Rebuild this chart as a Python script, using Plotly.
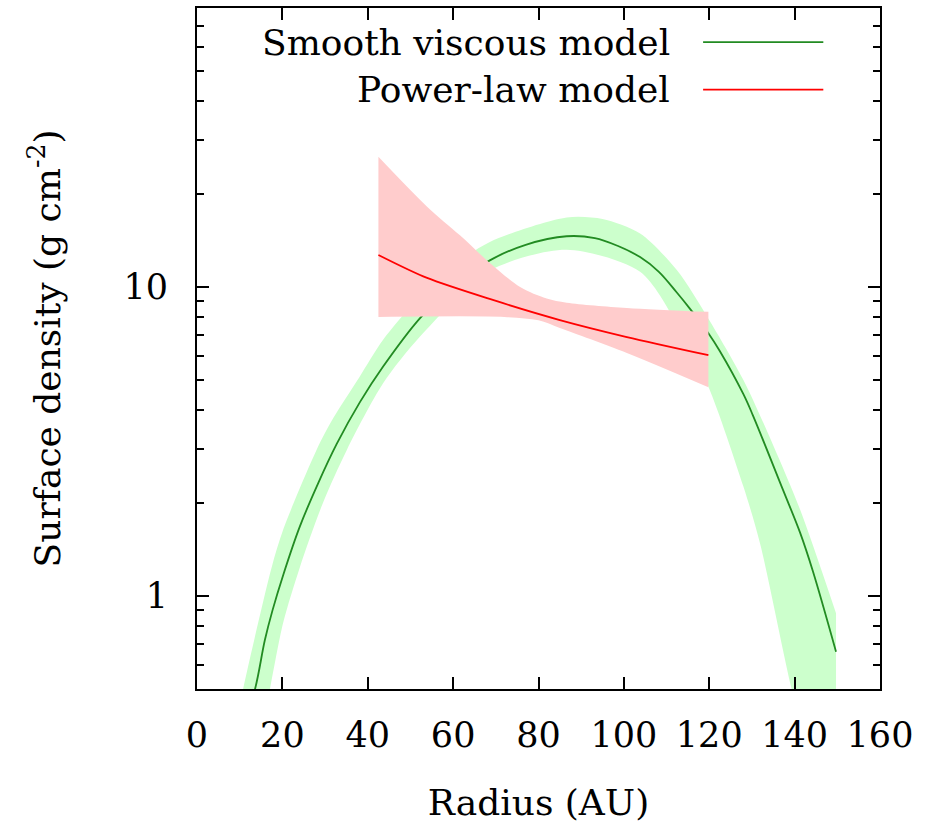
import plotly.graph_objects as go

# ---- data ----
# Smooth viscous model: central curve
viscous_r = [9, 13.6, 15.9, 17.7, 20.2, 24.1, 28.4, 32.7, 38.2, 43.6, 52.2, 60, 68.6, 77, 86.6, 93.2,
             98.5, 103.8, 108.2, 112.4, 115.5, 119.8, 122.5, 128, 130.2, 137.3, 141.3, 144.3, 149.7]
viscous_sigma = [0.31, 0.5, 0.72, 0.9, 1.17, 1.68, 2.32, 3.1, 4.25, 5.53, 7.92, 10.1, 12.2, 13.7, 14.6, 14.4,
                 13.6, 12.5, 11.2, 9.6, 8.5, 7.09, 6.2, 4.5, 3.85, 2.2, 1.6, 1.2, 0.66]
# Smooth viscous model: uncertainty band
viscous_upper_r = [9, 10.8, 13.4, 17.5, 20.2, 28, 32, 38, 43.6, 52.2, 60, 68.6, 86.6, 95, 103.8, 112.4,
                   119.8, 128, 135, 141.3, 149.7]
viscous_upper = [0.38, 0.5, 0.72, 1.24, 1.64, 2.97, 3.78, 5.1, 6.75, 9.3, 11.7, 14.0, 16.8, 16.6, 14.9, 11.35,
                 7.9, 5.0, 3.07, 1.9, 0.879]
viscous_lower_r = [14, 17.1, 20.2, 24.1, 29.5, 35.1, 43.6, 52.2, 68.6, 86.6, 103.8, 112.4, 119.8, 128, 131.9,
                   139.3, 145, 149.7]
viscous_lower = [0.3, 0.5, 0.82, 1.24, 2.0, 2.97, 4.88, 6.9, 11.3, 13.2, 11.2, 7.6, 4.76, 2.26, 1.48,
                 0.5, 0.25, 0.12]

# Power-law model: central curve
power_r = [42.5, 53.9, 69.3, 85, 100.7, 119.8]
power_sigma = [12.7, 10.7, 9.08, 7.82, 6.89, 6.02]
# Power-law model: uncertainty band
power_upper_r = [42.5, 53.9, 61.6, 68.6, 75.7, 81.9, 86.6, 100.7, 119.8]
power_upper = [26.4, 18.2, 14.7, 11.97, 10.0, 9.18, 8.9, 8.56, 8.31]
power_lower_r = [42.5, 72, 80, 85, 100.7, 119.8]
power_lower = [8.0, 8.0, 7.8, 7.37, 6.12, 4.74]

x_ticks = [0, 20, 40, 60, 80, 100, 120, 140, 160]
y_ticks = [1, 10]
y_minor = [0.5, 0.6, 0.7, 0.8, 0.9, 2, 3, 4, 5, 6, 7, 8, 9, 20, 30, 40, 50, 60, 70, 80]

legend_labels = ["Smooth viscous model", "Power-law model"]

GREEN_FILL = "rgb(204,255,204)"
GREEN_LINE = "rgb(34,139,34)"
RED_FILL = "rgb(255,204,204)"
RED_LINE = "rgb(255,0,0)"
FONT = "DejaVu Serif"
TICK_SIZE = 35
TEXT_SIZE = 36

fig = go.Figure()

fig.add_trace(go.Scatter(
    x=viscous_lower_r, y=viscous_lower, mode="lines",
    line=dict(width=0, color=GREEN_FILL, shape="spline", smoothing=0.8),
    showlegend=False, hoverinfo="skip"))
fig.add_trace(go.Scatter(
    x=viscous_upper_r, y=viscous_upper, mode="lines", fill="tonexty", fillcolor=GREEN_FILL,
    line=dict(width=0, color=GREEN_FILL, shape="spline", smoothing=0.8),
    showlegend=False, hoverinfo="skip"))
fig.add_trace(go.Scatter(
    x=viscous_r, y=viscous_sigma, mode="lines",
    line=dict(color=GREEN_LINE, width=1.8, shape="spline", smoothing=1.0),
    showlegend=False))

fig.add_trace(go.Scatter(
    x=power_lower_r, y=power_lower, mode="lines",
    line=dict(width=0, color=RED_FILL, shape="spline", smoothing=0.9),
    showlegend=False, hoverinfo="skip"))
fig.add_trace(go.Scatter(
    x=power_upper_r, y=power_upper, mode="lines", fill="tonexty", fillcolor=RED_FILL,
    line=dict(width=0, color=RED_FILL, shape="spline", smoothing=0.9),
    showlegend=False, hoverinfo="skip"))
fig.add_trace(go.Scatter(
    x=power_r, y=power_sigma, mode="lines",
    line=dict(color=RED_LINE, width=1.8, shape="spline", smoothing=0.8),
    showlegend=False))

legend_y = [0.950, 0.880]
legend_colors = [GREEN_LINE, RED_LINE]
for lab, yy, col in zip(legend_labels, legend_y, legend_colors):
    fig.add_annotation(x=0.695, y=yy, xref="paper", yref="paper", text=lab,
                       showarrow=False, xanchor="right", yanchor="middle",
                       font=dict(family=FONT, size=TEXT_SIZE, color="black"))
    fig.add_shape(type="line", xref="paper", yref="paper", x0=0.741, x1=0.917,
                  y0=yy, y1=yy, line=dict(color=col, width=1.8))

fig.update_xaxes(
    range=[0, 160], tickvals=x_ticks, ticktext=[str(v) for v in x_ticks],
    tickangle=0,
    ticks="inside", ticklen=12, tickwidth=1.5, tickcolor="black",
    showline=True, linecolor="black", linewidth=2, mirror="ticks",
    showgrid=False, zeroline=False, ticklabelstandoff=14,
    tickfont=dict(family=FONT, size=TICK_SIZE, color="black"),
    title=dict(text="Radius (AU)", font=dict(family=FONT, size=TEXT_SIZE, color="black"), standoff=36),
)
fig.update_yaxes(
    type="log", range=[-0.30103, 1.90309],
    tickvals=y_ticks, ticktext=["1", "10"],
    ticks="inside", ticklen=12, tickwidth=1.5, tickcolor="black",
    minor=dict(tickvals=y_minor, ticks="inside", ticklen=7, tickwidth=1.5, tickcolor="black", showgrid=False),
    showline=True, linecolor="black", linewidth=2, mirror="ticks",
    showgrid=False, zeroline=False, ticklabelstandoff=20,
    tickfont=dict(family=FONT, size=TICK_SIZE, color="black"),
    title=dict(text="Surface density (g cm<sup>-2</sup>)",
               font=dict(family=FONT, size=TEXT_SIZE, color="black"), standoff=52),
)

fig.update_layout(
    width=938, height=829,
    margin=dict(l=197, r=58, t=8, b=140, autoexpand=False),
    plot_bgcolor="white", paper_bgcolor="white",
    showlegend=False,
)

fig.write_html("out.html")
